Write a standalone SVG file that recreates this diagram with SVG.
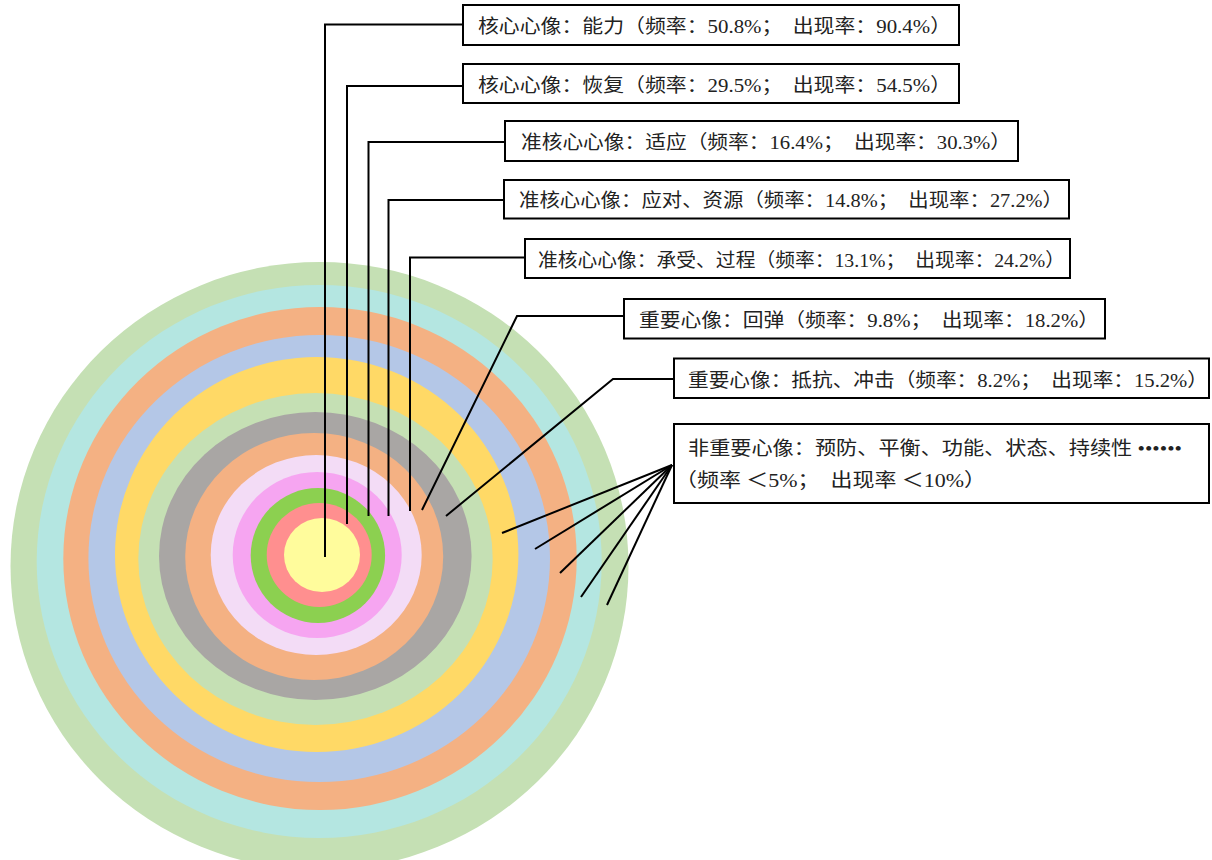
<svg xmlns="http://www.w3.org/2000/svg" width="1212" height="860" viewBox="0 0 1212 860">
<style>
.box{fill:#fff;stroke:#000;stroke-width:2}
.lbl{font-family:"Liberation Serif","Noto Sans CJK SC",serif;font-size:19px;fill:#222;white-space:pre}
.con{fill:none;stroke:#000;stroke-width:2}
</style>
<rect width="1212" height="860" fill="#fff"/>
<g id="rings">
<ellipse cx="319.5" cy="566" rx="309" ry="304" fill="#C5E0B4"/>
<ellipse cx="319.2" cy="561.5" rx="282.5" ry="276.5" fill="#B4E6E1"/>
<ellipse cx="320" cy="558.5" rx="256.7" ry="251.5" fill="#F4B183"/>
<ellipse cx="319.2" cy="558.5" rx="230.8" ry="223.5" fill="#B4C7E7"/>
<ellipse cx="316.7" cy="554.5" rx="201.7" ry="197.5" fill="#FFD966"/>
<ellipse cx="315.5" cy="559" rx="177.2" ry="166" fill="#C5E0B4"/>
<ellipse cx="315.3" cy="556" rx="156.3" ry="144" fill="#A9A6A4"/>
<ellipse cx="314.2" cy="556.5" rx="129" ry="123.5" fill="#F4B183"/>
<ellipse cx="316.2" cy="555" rx="105.5" ry="100" fill="#F3DCF6"/>
<ellipse cx="317.2" cy="555" rx="84.5" ry="83" fill="#F6A5F1"/>
<ellipse cx="317.9" cy="555.5" rx="67.2" ry="67.5" fill="#8CD050"/>
<ellipse cx="319.2" cy="555" rx="52.5" ry="52" fill="#FF8F8F"/>
<ellipse cx="322" cy="555" rx="38" ry="37" fill="#FFFC9C"/>
</g>
<g id="connectors">
<polyline class="con" points="325,557 325,24.5 463,24.5"/>
<polyline class="con" points="347,524 347,86 463,86"/>
<polyline class="con" points="368.5,516 368.5,142 505,142"/>
<polyline class="con" points="388.5,516 388.5,200 504,200"/>
<polyline class="con" points="410,511 410,257.5 525,257.5"/>
<polyline class="con" points="422,510 517,316 624,316"/>
<polyline class="con" points="446,516 613,379 674,379"/>
<line class="con" x1="672" y1="465" x2="502" y2="533"/>
<line class="con" x1="672" y1="465" x2="535" y2="549"/>
<line class="con" x1="672" y1="465" x2="560" y2="573"/>
<line class="con" x1="672" y1="465" x2="581" y2="597"/>
<line class="con" x1="672" y1="465" x2="607" y2="605"/>
</g>
<g id="n1"><rect class="box" x="463" y="5" width="496" height="40"/><text class="lbl" x="478" y="33" textLength="473" lengthAdjust="spacingAndGlyphs">核心心像：能力（频率：50.8%；  出现率：90.4%）</text></g>
<g id="n2"><rect class="box" x="463" y="64" width="496" height="39"/><text class="lbl" x="478" y="92" textLength="473" lengthAdjust="spacingAndGlyphs">核心心像：恢复（频率：29.5%；  出现率：54.5%）</text></g>
<g id="n3"><rect class="box" x="505" y="121" width="513" height="40"/><text class="lbl" x="521" y="149" textLength="490" lengthAdjust="spacingAndGlyphs">准核心心像：适应（频率：16.4%；  出现率：30.3%）</text></g>
<g id="n4"><rect class="box" x="504" y="180" width="565" height="38.5"/><text class="lbl" x="519" y="207" textLength="544" lengthAdjust="spacingAndGlyphs">准核心心像：应对、资源（频率：14.8%；  出现率：27.2%）</text></g>
<g id="n5"><rect class="box" x="525" y="239" width="545" height="39"/><text class="lbl" x="538" y="267" textLength="527" lengthAdjust="spacingAndGlyphs">准核心心像：承受、过程（频率：13.1%；  出现率：24.2%）</text></g>
<g id="n6"><rect class="box" x="624" y="299" width="481" height="39.5"/><text class="lbl" x="639" y="327" textLength="460" lengthAdjust="spacingAndGlyphs">重要心像：回弹（频率：9.8%；  出现率：18.2%）</text></g>
<g id="n7"><rect class="box" x="674" y="358.5" width="535" height="39.5"/><text class="lbl" x="688" y="387" textLength="520" lengthAdjust="spacingAndGlyphs">重要心像：抵抗、冲击（频率：8.2%；  出现率：15.2%）</text></g>
<g id="n8"><rect class="box" x="674" y="424" width="535" height="79"/><text class="lbl" x="688" y="455" textLength="494" lengthAdjust="spacingAndGlyphs">非重要心像：预防、平衡、功能、状态、持续性 ••••••</text><text class="lbl" x="675" y="487" textLength="311" lengthAdjust="spacingAndGlyphs">（频率 ＜5%；  出现率 ＜10%）</text></g>
</svg>
